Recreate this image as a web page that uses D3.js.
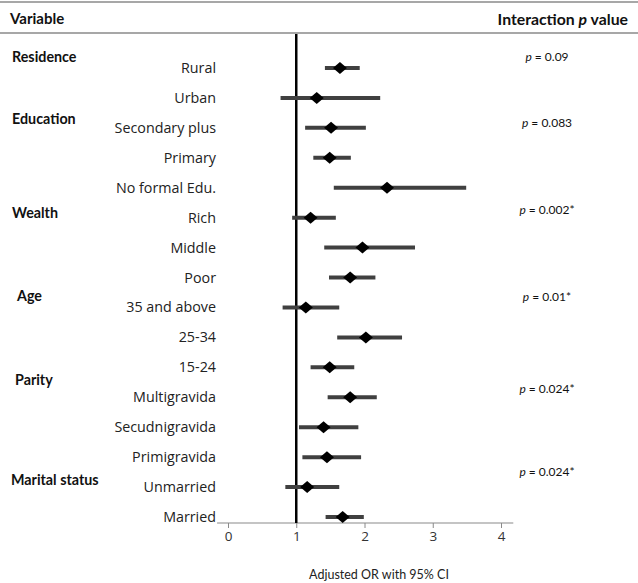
<!DOCTYPE html>
<html><head><meta charset="utf-8">
<script src="https://cdn.jsdelivr.net/npm/d3@7"></script>
<style>body{margin:0;background:#fff}svg{display:block}</style>
</head><body><svg id="c" width="638" height="583"></svg>
<script>
const categories = ["Rural","Urban","Secondary plus","Primary","No formal Edu.","Rich","Middle","Poor","35 and above","25-34","15-24","Multigravida","Secudnigravida","Primigravida","Unmarried","Married"];
const orValues = [1.64,1.30,1.51,1.49,2.33,1.21,1.97,1.79,1.14,2.02,1.49,1.79,1.40,1.45,1.16,1.68];
const ciLow    = [1.42,0.77,1.13,1.25,1.55,0.94,1.41,1.48,0.80,1.60,1.21,1.46,1.04,1.09,0.84,1.43];
const ciHigh   = [1.93,2.23,2.02,1.80,3.49,1.58,2.74,2.16,1.63,2.55,1.85,2.18,1.91,1.95,1.63,1.99];
const groups = ["Residence","Education","Wealth","Age","Parity","Marital status"];
const groupPos = [-0.37,1.7,4.83,7.63,10.43,13.77];
const pValues = ["0.09","0.083","0.002*","0.01*","0.024*","0.024*"];
const pPos = [-0.37,1.83,4.73,7.63,10.73,13.5];
const xTicks = [0,1,2,3,4];

const svg = d3.select("#c");
const x = d3.scaleLinear().domain([0,4]).range([228,501]);
const y = d3.scaleLinear().domain([0,15]).range([68,517]);
const F = "'Open Sans', sans-serif";
const FB = "Lato, 'Open Sans', sans-serif";

// header lines
svg.append("line").attr("x1",0).attr("x2",638).attr("y1",2).attr("y2",2).attr("stroke","#8a8a8a").attr("stroke-width",1.5);
svg.append("line").attr("x1",0).attr("x2",638).attr("y1",33).attr("y2",33).attr("stroke","#8a8a8a").attr("stroke-width",1.5);
svg.append("text").attr("x",10).attr("y",19).attr("dy","0.35em").attr("font-family",FB).attr("font-weight","bold").attr("font-size",15).attr("fill","#111").text("Variable");
const ht = svg.append("text").attr("x",628).attr("y",19).attr("dy","0.35em").attr("text-anchor","end").attr("font-family",FB).attr("font-weight","bold").attr("font-size",15.8).attr("fill","#111");
ht.append("tspan").text("Interaction ");
ht.append("tspan").attr("font-style","italic").text("p");
ht.append("tspan").text(" value");

// x axis
const axisY = 523;
const ax = svg.append("g").attr("transform",`translate(0,${axisY})`)
  .call(d3.axisBottom(x.copy().domain([-0.16,4.18]).range([x(-0.16),x(4.18)])).tickValues(xTicks).tickSize(5).tickPadding(3).tickFormat(d3.format("d")));
ax.select(".domain").attr("stroke","#8a8a8a").attr("stroke-width",1.2).attr("d",`M${x(-0.16)},0H${x(4.18)}`);
ax.selectAll(".tick line").attr("stroke","#8a8a8a");
ax.selectAll(".tick text").attr("font-family",F).attr("font-size",13.5).attr("fill","#333");
svg.append("text").attr("x",379).attr("y",575).attr("dy","0.35em").attr("text-anchor","middle").attr("font-family",FB).attr("font-size",12.5).attr("fill","#222").text("Adjusted OR with 95% CI");

// reference line
svg.append("line").attr("x1",x(1)).attr("x2",x(1)).attr("y1",34).attr("y2",axisY).attr("stroke","#000").attr("stroke-width",2.5);

// CI lines
svg.selectAll("line.ci").data(categories).join("line").attr("class","ci")
  .attr("x1",(d,i)=>x(ciLow[i])).attr("x2",(d,i)=>x(ciHigh[i]))
  .attr("y1",(d,i)=>y(i)).attr("y2",(d,i)=>y(i))
  .attr("stroke","#404040").attr("stroke-width",4);
// diamonds
svg.selectAll("path.pt").data(categories).join("path").attr("class","pt")
  .attr("d","M-7,0L0,-6L7,0L0,6Z")
  .attr("transform",(d,i)=>`translate(${x(orValues[i])},${y(i)})`)
  .attr("fill","#000");

// category labels
svg.selectAll("text.cat").data(categories).join("text").attr("class","cat")
  .attr("x",216).attr("y",(d,i)=>y(i)).attr("dy","0.35em").attr("text-anchor","end")
  .attr("font-family",F).attr("font-size",14.3).attr("fill","#222").text(d=>d);

// group labels
svg.selectAll("text.grp").data(groups).join("text").attr("class","grp")
  .attr("x",(d,i)=>[12,12,12,17,15,11][i]).attr("y",(d,i)=>y(groupPos[i])).attr("dy","0.35em")
  .attr("font-family",FB).attr("font-weight","bold").attr("font-size",14.3).attr("fill","#111").text(d=>d);

// p values
pValues.forEach((p,i)=>{
  const t = svg.append("text").attr("x",547).attr("y",y(pPos[i])).attr("dy","0.35em").attr("text-anchor","middle")
    .attr("font-family",FB).attr("font-size",12).attr("fill","#111");
  t.append("tspan").attr("font-style","italic").text("p");
  t.append("tspan").text(" = "+p);
});
</script></body></html>
